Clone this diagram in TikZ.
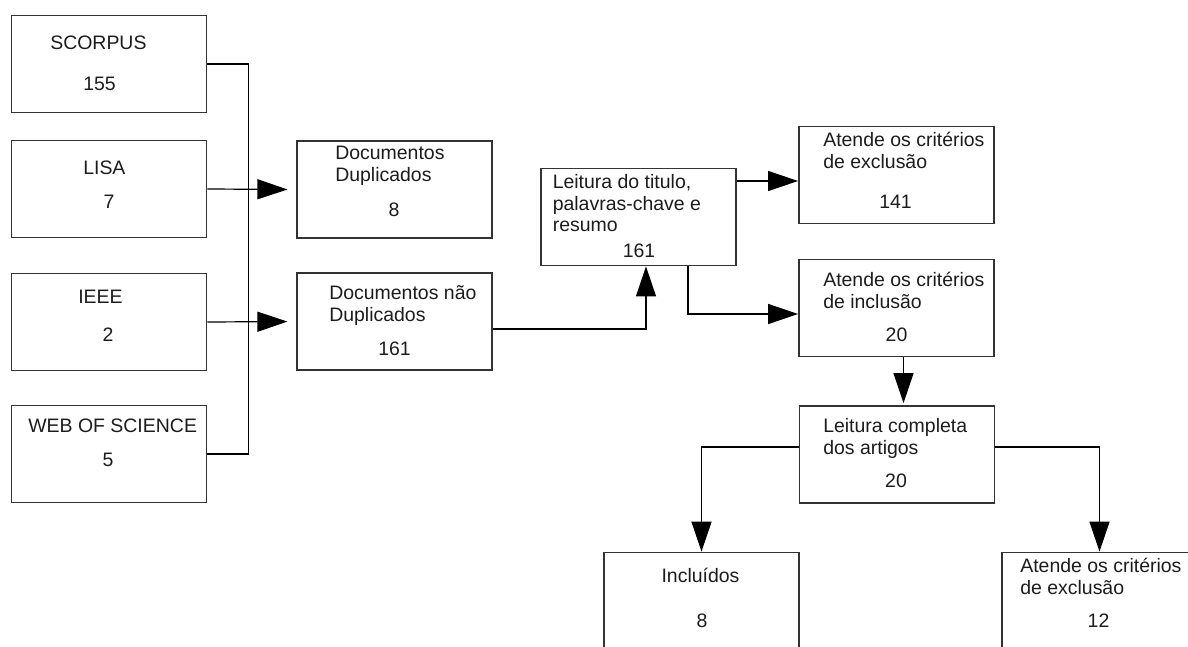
\documentclass[tikz,border=0pt]{standalone}
\usepackage{fontspec}
\setmainfont{Liberation Sans}
\usetikzlibrary{arrows.meta,calc}

% two- or three-line labels, baseline at the first line
\newcommand{\twolines}[2]{\vtop{\hbox{#1}\hbox{#2}}}
\newcommand{\threelines}[3]{\vtop{\baselineskip=16.2pt\hbox{#1}\hbox{#2}\hbox{#3}}}

\definecolor{ink}{HTML}{1C1C1C}
\definecolor{rim}{HTML}{333333}

\tikzset{
  box/.style={draw=rim, line width=1.1pt, rectangle, inner sep=0pt,
              minimum width=146.5pt, minimum height=73pt},
  txt/.style={inner sep=0pt, anchor=base west, text=ink,
              font=\fontsize{14.6}{16.9}\selectfont},
  num/.style={txt, anchor=base},
  link/.style={draw=black, line width=0.9pt},
  arr/.style={link, -{Triangle[length=22.5pt,width=15pt]}}
}

\begin{document}
\begin{tikzpicture}[x=0.75pt,y=-0.75pt]
\useasboundingbox (0,0) rectangle (1188,646);
\clip (0,0) rectangle (1188,646);

% sources
\node[box] (scorpus) at (109,64)  {};
\node[box] (lisa)    at (109,189) {};
\node[box] (ieee)    at (109,322) {};
\node[box] (wos)     at (109,454) {};

% duplicate check
\node[box] (dup) at (394.5,189.5) {};
\node[box] (nd)  at (394.5,321.5) {};

% screening
\node[box] (ler) at (638.5,217)   {};
\node[box] (ex1) at (896.5,175)   {};
\node[box] (inc) at (896.5,308)   {};
\node[box] (lc)  at (897,454.5)   {};
\node[box] (incl) at (701.5,601)  {};
\node[box] (ex2)  at (1099.5,601) {};

% labels
\node[txt] (scorpus-t) at (50,49)  {SCORPUS};
\node[num] (scorpus-n) at (99.5,90) {155};
\node[txt] (lisa-t) at (83,174) {LISA};
\node[num] (lisa-n) at (109,208) {7};
\node[txt] (ieee-t) at (78,303) {IEEE};
\node[num] (ieee-n) at (108,341) {2};
\node[txt] (wos-t) at (28,432) {WEB OF SCIENCE};
\node[num] (wos-n) at (108,466) {5};

\node[txt] (dup-t) at (335,159) {\twolines{Documentos}{Duplicados}};
\node[num] (dup-n) at (394,216) {8};
\node[txt] (nd-t) at (329,299) {\twolines{Documentos não}{Duplicados}};
\node[num] (nd-n) at (394.5,355) {161};

\node[txt] (ler-t) at (552.5,188.5) {\threelines{Leitura do titulo,}{palavras-chave e}{resumo}};
\node[num] (ler-n) at (639,257) {161};

\node[txt] (ex1-t) at (823,146) {\twolines{Atende os critérios}{de exclusão}};
\node[num] (ex1-n) at (895.5,208) {141};
\node[txt] (inc-t) at (823,286) {\twolines{Atende os critérios}{de inclusão}};
\node[num] (inc-n) at (896.5,341) {20};
\node[txt] (lc-t) at (823,432) {\twolines{Leitura completa}{dos artigos}};
\node[num] (lc-n) at (896,487) {20};

\node[num] (incl-t) at (700.5,582) {Incluídos};
\node[num] (incl-n) at (702,627) {8};
\node[txt] (ex2-t) at (1020,572) {\twolines{Atende os critérios}{de exclusão}};
\node[num] (ex2-n) at (1098.5,627) {12};

% collecting bus of the four sources
\draw[link] (scorpus.east) -- ++(41,0) |- (wos.east);

% sources to the duplicate check
\draw[arr, shorten >=6.5pt] (lisa.east) -- (dup.west);
\draw[arr, shorten >=6.5pt] (ieee.east) -- (nd.west);

% unique documents to title/abstract reading
\draw[arr] ($(nd.east)+(0,7.5)$) -| ($(ler.south)+(7.5,0)$);

% title/abstract reading outcomes
\coordinate (a1) at ($(ex1.west)+(0,6)$);
\draw[arr] (ler.east |- a1) -- (a1);
\coordinate (a2) at ($(inc.west)+(0,6)$);
\draw[arr] ($(ler.south)+(49.5,0)$) |- (a2);

% inclusion to full reading
\coordinate (d0) at ($(inc.south)+(7,0)$);
\draw[arr, shorten >=1.5pt] (d0) -- (d0 |- lc.north);

% full reading outcomes
\draw[arr] ($(lc.west)+(0,-7.5)$) -| (incl.north);
\draw[arr] ($(lc.east)+(0,-7.5)$) -| (ex2.north);
\end{tikzpicture}
\end{document}
